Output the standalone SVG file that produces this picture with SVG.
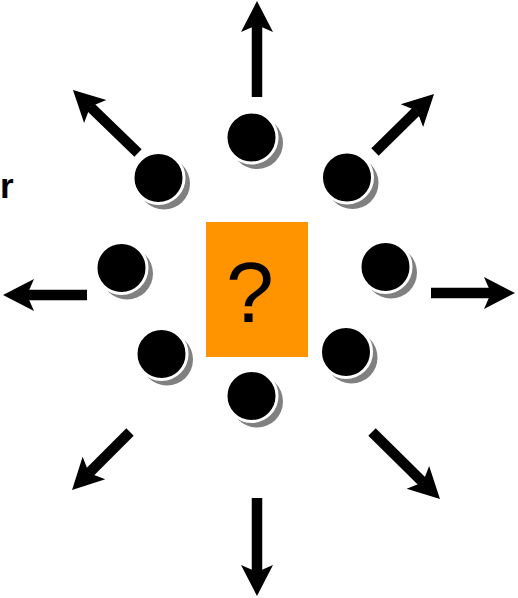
<svg xmlns="http://www.w3.org/2000/svg" width="518" height="598" viewBox="0 0 518 598">
<style>
.arr{stroke:#000;stroke-width:10.5;fill:none;marker-end:url(#head)}
.sh{fill:#808080}
.dot{fill:#000;stroke:#fff;stroke-width:3}
.lbl{font-family:"Liberation Sans",Arial,sans-serif;fill:#000}
</style>
<defs>
<marker id="head" viewBox="-32 -17 33 34" refX="-24" refY="0" markerWidth="33" markerHeight="34" markerUnits="userSpaceOnUse" orient="auto">
<path d="M0,0 L-31,-16 L-24,0 L-31,16 Z" fill="#000"/>
</marker>
</defs>
<text class="lbl" x="0" y="198" font-size="35" font-weight="bold">r</text>
<g id="center">
<rect x="206" y="222" width="102" height="135" fill="#FF9400"/>
<text class="lbl" x="250" y="322" font-size="86" text-anchor="middle">?</text>
</g>
<g id="connectors">
<line class="arr" x1="257" y1="97" x2="257" y2="25"/>
<line class="arr" x1="257" y1="498" x2="257" y2="572"/>
<line class="arr" x1="87" y1="295" x2="27" y2="295"/>
<line class="arr" x1="431" y1="293" x2="491" y2="293"/>
<line class="arr" x1="138" y1="153" x2="90.2" y2="106.7"/>
<line class="arr" x1="375" y1="152" x2="416.9" y2="110.8"/>
<line class="arr" x1="130" y1="432" x2="89" y2="473"/>
<line class="arr" x1="372" y1="432" x2="422.9" y2="482.2"/>
</g>
<g id="n-top"><circle class="sh" cx="257" cy="143" r="26"/><circle class="dot" cx="251.5" cy="137.5" r="25.5"/></g>
<g id="n-topleft"><circle class="sh" cx="164" cy="183.5" r="26"/><circle class="dot" cx="158.5" cy="178" r="25.5"/></g>
<g id="n-topright"><circle class="sh" cx="352.5" cy="183" r="26"/><circle class="dot" cx="347" cy="177.5" r="25.5"/></g>
<g id="n-left"><circle class="sh" cx="127" cy="273.5" r="26"/><circle class="dot" cx="121.5" cy="268" r="25.5"/></g>
<g id="n-right"><circle class="sh" cx="391" cy="272.5" r="26"/><circle class="dot" cx="385.5" cy="267" r="25.5"/></g>
<g id="n-bottomleft"><circle class="sh" cx="167" cy="359.5" r="26"/><circle class="dot" cx="161.5" cy="354" r="25.5"/></g>
<g id="n-bottomright"><circle class="sh" cx="351.5" cy="357.5" r="26"/><circle class="dot" cx="346" cy="352" r="25.5"/></g>
<g id="n-bottom"><circle class="sh" cx="257" cy="401.5" r="26"/><circle class="dot" cx="251.5" cy="396" r="25.5"/></g>
</svg>
